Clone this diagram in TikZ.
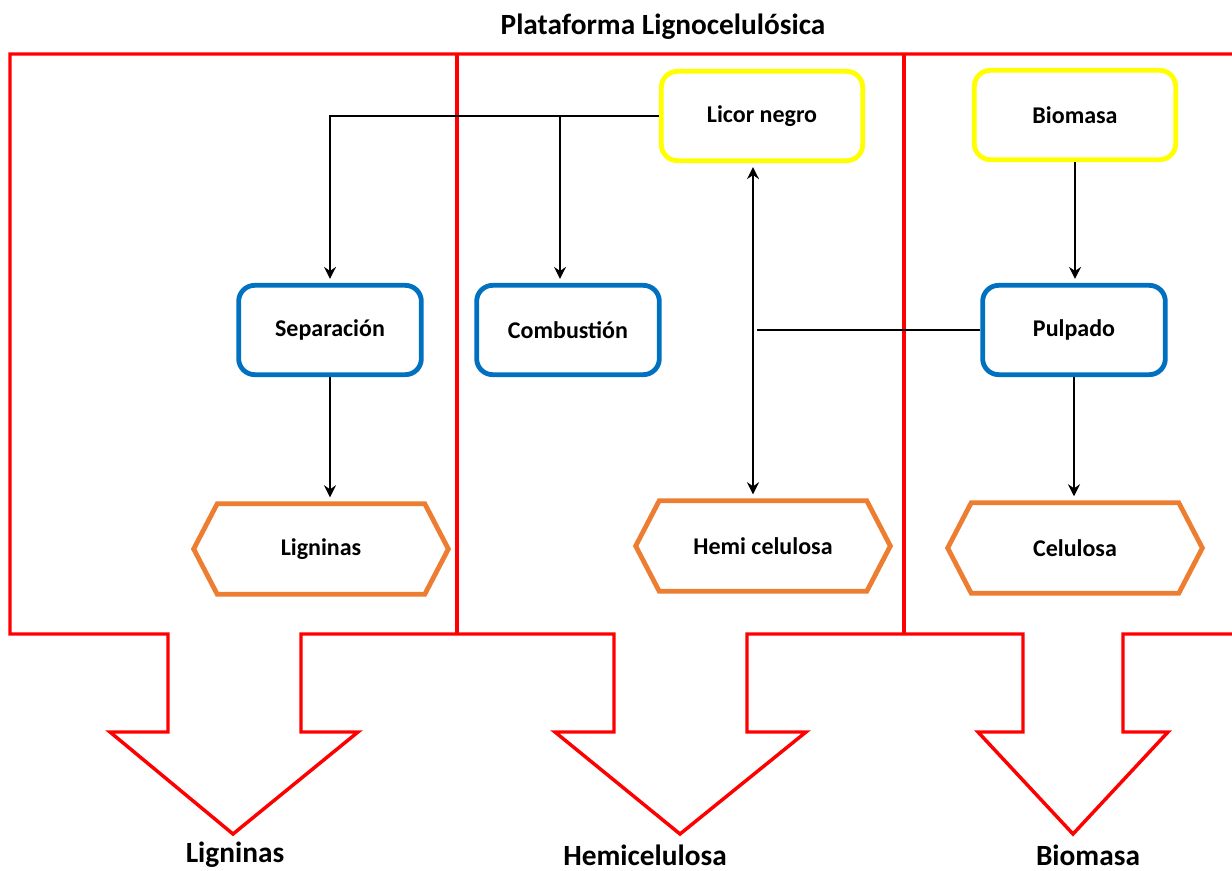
\documentclass[tikz,border=0pt]{standalone}
\usepackage{fontspec}
\setmainfont{Carlito}
\usepackage{tikz}
\usetikzlibrary{arrows.meta,shapes.symbols}
\definecolor{red}{HTML}{FF0000}
\definecolor{yellow}{HTML}{FFFF00}
\definecolor{blue}{HTML}{0070C0}
\definecolor{orange}{HTML}{ED7D31}

\begin{document}
\begin{tikzpicture}[x=0.75pt,y=-0.75pt,>={Stealth[length=9pt,width=9pt,inset=3pt]},
    feed/.style={rounded corners=12pt,draw=yellow,line width=3.6pt,minimum width=151pt,minimum height=67pt,font=\fontsize{18}{22}\selectfont\bfseries},
    proc/.style={rounded corners=12pt,draw=blue,line width=3.6pt,minimum width=137pt,minimum height=67pt,font=\fontsize{18}{22}\selectfont\bfseries},
    prod/.style={signal,signal to=west and east,signal pointer angle=125,draw=orange,line width=3.6pt,minimum width=191pt,minimum height=68pt,font=\fontsize{18}{22}\selectfont\bfseries},
    lbl/.style={inner sep=1pt,font=\fontsize{22}{26}\selectfont\bfseries},
    link/.style={line width=1.1pt,shorten >=3pt}]
  \useasboundingbox (0,0) rectangle (1232,871);
  % red frame with the three outlet arrows
  \draw[red,line width=2.6pt,line join=miter]
    (1232,54) -- (10,54) -- (10,634) -- (168,634) -- (168,732) -- (110,732) -- (233,834)
    -- (358,732) -- (301,732) -- (301,634) -- (614,634) -- (614,732) -- (555,732)
    -- (680,834) -- (806,732) -- (747,732) -- (747,634) -- (1023,634) -- (1023,732)
    -- (978,732) -- (1073,834) -- (1168,732) -- (1123,732) -- (1123,634) -- (1232,634);
  \draw[red,line width=2.6pt] (457,54) -- (457,634);
  \draw[red,line width=2.6pt] (904,54) -- (904,634);

  \node[lbl] (title) at (663,27) {Plataforma Lignocelulósica};
  \node[lbl] (outlig) at (235,855) {Ligninas};
  \node[lbl] (outhemi) at (645,855) {Hemicelulosa};
  \node[lbl] (outbio) at (1088,855) {Biomasa};

  \node[feed] (licor) at (762,116) {Licor negro};
  \node[feed] (biomasa) at (1075,115) {Biomasa};
  \node[proc] (sep) at (330,330) {Separación};
  \node[proc] (comb) at (568,330) {Combustión};
  \node[proc] (pulp) at (1074,330) {Pulpado};
  \node[prod] (lign) at (321,549) {Ligninas};
  \node[prod] (hemi) at (763,546) {Hemi celulosa};
  \node[prod] (celu) at (1075,548) {Celulosa};

  \coordinate (split) at (560,116);
  \coordinate (jn) at (753,330);
  \draw[->,link] (licor.west) -| (sep.north);
  \draw[->,link] (split) -- (split |- comb.north);
  \draw[->,link] (sep.south) -- (sep.south |- lign.north);
  \draw[->,link] (biomasa.south) -- (biomasa.south |- pulp.north);
  \draw[->,link] (pulp.south) -- (pulp.south |- celu.north);
  \draw[<->,link,shorten <=3pt] (jn |- hemi.north) -- (jn |- licor.south);
  \draw[link] (pulp.west) -- (pulp.west -| jn);
\end{tikzpicture}
\end{document}
